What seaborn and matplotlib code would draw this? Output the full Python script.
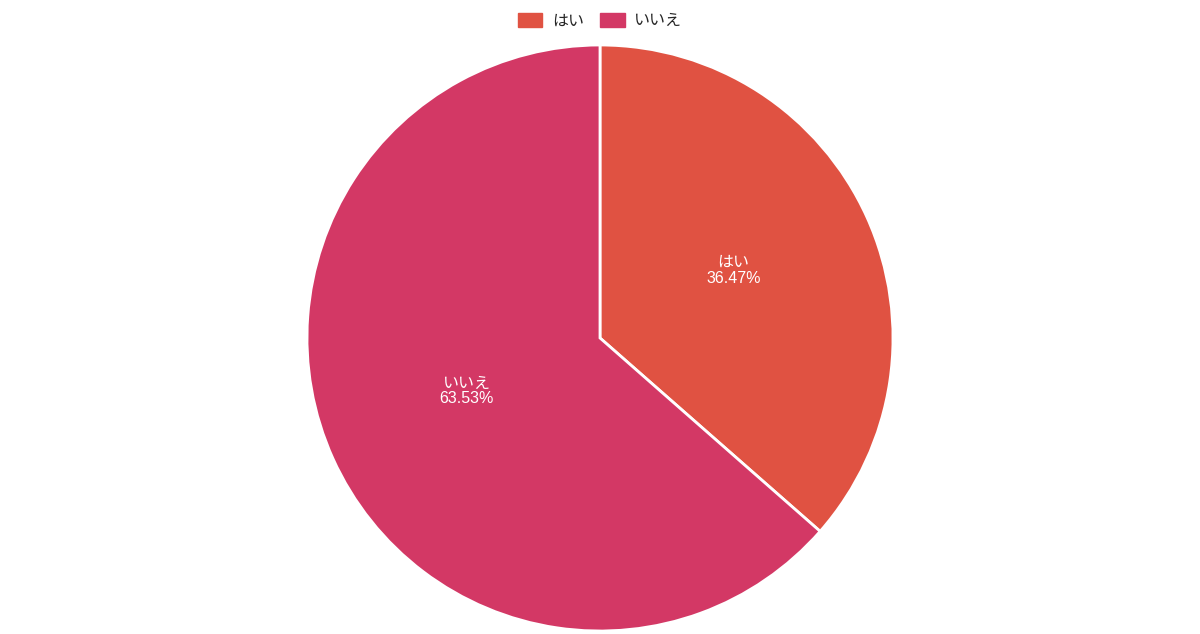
import matplotlib
matplotlib.use("Agg")
import matplotlib.pyplot as plt
import matplotlib.patches as mpatches
import seaborn as sns

# data
labels = ["はい", "いいえ"]
shares = [36.47, 63.53]
colors = ["#E05242", "#D33865"]

sns.set_theme(style="white")
plt.rcParams["font.family"] = ["Liberation Sans", "Noto Sans CJK JP", "DejaVu Sans"]

palette = sns.color_palette(colors)

fig = plt.figure(figsize=(12, 6.34), dpi=100)
ax = fig.add_axes([307 / 1200, 3 / 634, 586 / 1200, 586 / 634])

wedges, texts = ax.pie(
    shares,
    colors=palette,
    startangle=90,
    counterclock=False,
    labels=[f"{l}\n{s:.2f}%" for l, s in zip(labels, shares)],
    labeldistance=0.5,
    wedgeprops=dict(edgecolor="white", linewidth=2),
    textprops=dict(color="white", fontsize=11.5, ha="center", va="center", linespacing=1.05),
)
for t in texts:
    x, y = t.get_position()
    t.set_position((x, y + 0.025))

ax.set_xlim(-1, 1)
ax.set_ylim(-1, 1)
ax.set_aspect("equal")
ax.axis("off")

handles = [mpatches.Patch(facecolor=c, edgecolor=c, label=l) for c, l in zip(palette, labels)]
fig.legend(
    handles=handles,
    loc="upper center",
    bbox_to_anchor=(0.5, 1.0),
    ncol=2,
    frameon=False,
    fontsize=11.5,
    handlelength=1.55,
    handleheight=1.0,
    handletextpad=0.6,
    columnspacing=1.0,
    borderaxespad=0.4,
)

fig.savefig("out.png", dpi=100)
